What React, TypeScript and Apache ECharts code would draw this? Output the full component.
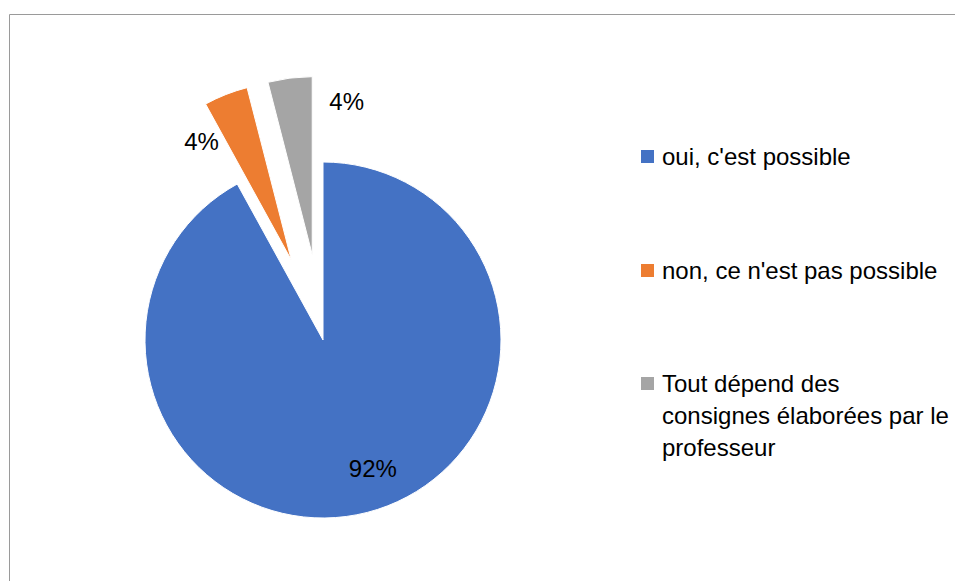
import React, { useEffect, useRef } from "react";
import * as echarts from "echarts";

const categories = [
  "oui, c'est possible",
  "non, ce n'est pas possible",
  "Tout dépend des\nconsignes élaborées par le\nprofesseur",
];
const values = [92, 4, 4];
const exploded = [false, true, true];
const colors = ["#4472C4", "#ED7D31", "#A5A5A5"];

// label nudges (dx, dy) relative to ECharts' "inside" position
const labelNudges = [
  [27, 39],
  [-56, -33],
  [46, -62],
];

const FONT = "'Liberation Sans', Arial, sans-serif";

export default function App() {
  const ref = useRef<HTMLDivElement>(null);
  useEffect(() => {
    if (!ref.current) return;
    const chart = echarts.init(ref.current, null, { renderer: "svg" });
    const legendTops = [140.5, 254.5, 367.5];
    const legends = categories.map((name, i) => {
      const lines = name.split("\n").length;
      const itemHeight = 15 + (lines - 1) * 32;
      return {
        show: true,
        orient: "vertical",
        left: 639,
        top: legendTops[i],
        padding: 0,
        itemWidth: 15,
        itemHeight,
        selectedMode: false,
        data: [
          {
            name,
            icon:
              lines > 1
                ? `path://M0,0H15V15H0Z M0,${itemHeight}L0.001,${itemHeight}Z`
                : "rect",
          },
        ],
        textStyle: {
          fontFamily: FONT,
          fontSize: 24,
          lineHeight: 32,
          color: "#000",
          padding: [0, 0, 0, 2],
        },
      };
    });
    chart.setOption({
      animation: false,
      color: colors,
      graphic: [
        {
          type: "rect",
          shape: { x: 9.5, y: 14.5, width: 1200, height: 1000 },
          style: { fill: "none", stroke: "#9a9a9a", lineWidth: 1 },
          silent: true,
        },
      ],
      legend: legends,
      series: [
        {
          type: "pie",
          center: [323, 340],
          radius: 178,
          startAngle: 90,
          clockwise: true,
          selectedMode: "multiple",
          selectedOffset: 86,
          avoidLabelOverlap: false,
          itemStyle: { borderColor: "#fff", borderWidth: 1 },
          emphasis: { disabled: true },
          label: {
            show: true,
            position: "inside",
            fontFamily: FONT,
            fontSize: 24,
            color: "#000",
            formatter: (p: any) => `${p.value}%`,
          },
          labelLine: { show: false },
          labelLayout: (p: any) => {
            const n = labelNudges[p.dataIndex];
            return { dx: n[0], dy: n[1] };
          },
          data: categories.map((name, i) => ({
            name,
            value: values[i],
            selected: exploded[i],
          })),
        },
      ],
    });
    return () => chart.dispose();
  }, []);
  return (
    <div
      ref={ref}
      style={{ position: "fixed", left: 0, top: 0, width: 955, height: 581, background: "#fff" }}
    />
  );
}
